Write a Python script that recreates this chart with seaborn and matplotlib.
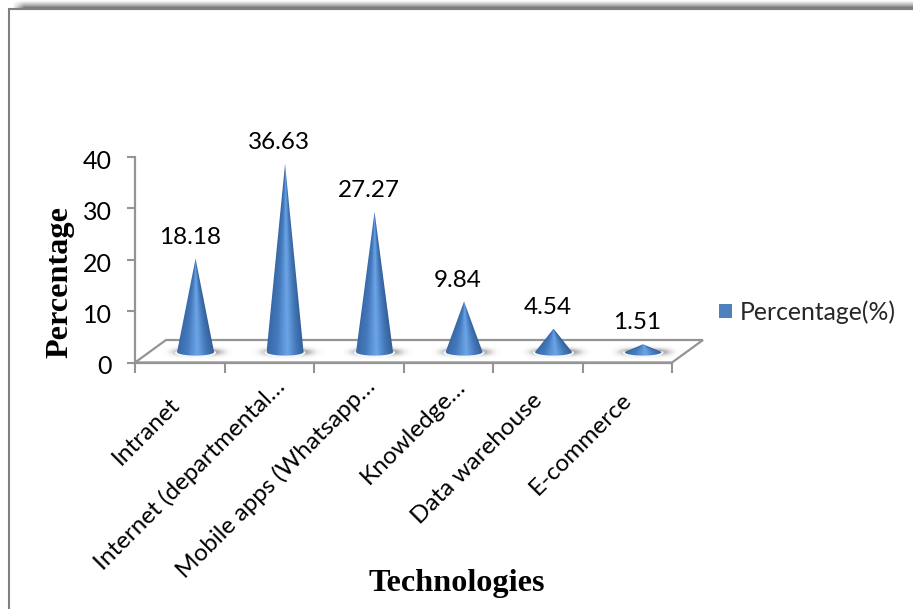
import numpy as np
import pandas as pd
import matplotlib
matplotlib.use("Agg")
import matplotlib.pyplot as plt
from matplotlib.colors import LinearSegmentedColormap
from matplotlib.patches import Polygon, Patch
from matplotlib.transforms import ScaledTranslation
import seaborn as sns

technologies = ["Intranet", "Internet (departmental…", "Mobile apps (Whatsapp…",
                "Knowledge…", "Data warehouse", "E-commerce"]
percentages = [18.18, 36.63, 27.27, 9.84, 4.54, 1.51]
value_labels = ["18.18", "36.63", "27.27", "9.84", "4.54", "1.51"]
y_ticks = [0, 10, 20, 30, 40]

# Pixel shift of each category label's baseline end from its slot centre
label_shift_x = [1, 17.5, 18, 18.5, 6, 6]
label_shift_y = [35, 17, 17, 17, 31, 30]

W, H = 913, 609
GREY = "#949494"
BLUE = "#4f81bd"
TEXT_FONT = "Lato"
SERIF = "Liberation Serif"

sns.set_theme(style="white")
fig = plt.figure(figsize=(W / 100, H / 100), dpi=100, facecolor="white")

# Outer chart frame with its soft drop shadow, in pixel coordinates
bg = fig.add_axes([0, 0, 1, 1], zorder=0)
bg.set_xlim(0, W)
bg.set_ylim(H, 0)
bg.axis("off")
shade = np.zeros((12, W, 4))
fade_y = np.linspace(0, 1, 12) ** 1.2
fade_x = np.clip((np.arange(W) - 12) / 12, 0, 1)
shade[..., 3] = 0.62 * fade_y[:, None] * fade_x[None, :]
bg.imshow(shade, extent=(0, W, 9, 0), aspect="auto", zorder=1, interpolation="bilinear")
bg.plot([9, 9, W], [H, 9, 9], color="#7f7f7f", lw=1.5, zorder=2, solid_joinstyle="miter")
bg.set_xlim(0, W)
bg.set_ylim(H, 0)

# Plot area
left, right, top, bottom = 135, 672, 157, 362.5
ax = fig.add_axes([left / W, 1 - bottom / H, (right - left) / W, (bottom - top) / H], zorder=1)
ax.patch.set_alpha(0)
frame = pd.DataFrame({"Technology": technologies, "Percentage": percentages})
sns.barplot(data=frame, x="Technology", y="Percentage", color=BLUE, width=0.4, ax=ax)
ax.set_xlim(-0.5, 5.5)
ax.set_ylim(0, 40)

px_x = (len(technologies)) / (right - left)   # category units per pixel
px_y = 40 / (bottom - top)                    # percent units per pixel

# Floor of the 3-D scene
floor_dx, floor_dy = 31 * px_x, 22.5 * px_y
floor = Polygon([(-0.5, 0), (5.5, 0), (5.5 + floor_dx, floor_dy), (-0.5 + floor_dx, floor_dy)],
                closed=True, facecolor="white", edgecolor=GREY, lw=1.6, clip_on=False, zorder=1)
ax.add_patch(floor)

cone_cmap = LinearSegmentedColormap.from_list(
    "cone", [(0, "#386aa8"), (0.25, "#4479bc"), (0.55, "#6ca6e8"), (0.8, "#4478b8"), (1, "#335f99")])

base_y = 10.5 * px_y
base_dx = 15.8 * px_x
half_w = 18.5 * px_x
semi_h = 3.6 * px_y

# Each hidden bar supplies the position and height of one cone
for bar, text in zip(ax.patches, value_labels):
    bar.set_visible(False)
    cx = bar.get_x() + bar.get_width() / 2 + base_dx
    apex = base_y + bar.get_height()

    # Blurred contact shadow beneath the cone, fading out before its edge
    gx, gy = np.meshgrid(np.linspace(-1, 1, 140), np.linspace(-1, 1, 40))
    soft = np.exp(-(gx / 0.62) ** 4 - (gy / 0.42) ** 2)
    rgba = np.zeros((40, 140, 4))
    rgba[..., :3] = 0.42
    rgba[..., 3] = 0.85 * soft
    ax.imshow(rgba, extent=(cx - 37 * px_x, cx + 41 * px_x,
                            base_y - 8 * px_y, base_y + 8 * px_y),
              aspect="auto", zorder=2, clip_on=False, origin="lower")

    # White rim hugging the base
    th = np.linspace(np.pi, 2 * np.pi, 40)
    rim_x = cx + (half_w + 1.4 * px_x) * np.cos(th)
    rim_y = base_y + (semi_h + 1.6 * px_y) * np.sin(th)
    ax.fill(rim_x, rim_y, color="#f6f6f6", zorder=3, clip_on=False)

    # Cone body: shading follows the narrowing width towards the apex
    outline_x = np.r_[cx + half_w * np.cos(th), cx]
    outline_y = np.r_[base_y + semi_h * np.sin(th), apex]
    xs = np.linspace(cx - half_w, cx + half_w, 240)
    ys = np.linspace(base_y - semi_h, apex, 400)
    mx, my = np.meshgrid(xs, ys)
    frac = np.clip((apex - my) / (apex - base_y), 0.005, 1.0)
    u = np.clip((mx - cx) / (half_w * frac), -1, 1) * 0.5 + 0.5
    img = ax.imshow(u, extent=(cx - half_w, cx + half_w, base_y - semi_h, apex),
                    origin="lower", aspect="auto", cmap=cone_cmap, vmin=0, vmax=1, zorder=4)
    img.set_clip_path(Polygon(np.c_[outline_x, outline_y], closed=True, transform=ax.transData))

    # Value label above the apex
    ax.annotate(text, xy=(cx, apex), xytext=(-6 * 0.72, 22 * 0.72 - 0.5),
                textcoords="offset points", ha="center", va="center",
                fontsize=17.5, family=TEXT_FONT, color="black", zorder=6)

ax.set_xlim(-0.5, 5.5)
ax.set_ylim(0, 40)

# Axes styling
sns.despine(ax=ax, top=True, right=True)
for side in ("left", "bottom"):
    ax.spines[side].set_color(GREY)
    ax.spines[side].set_linewidth(1.6)
    ax.spines[side].set_zorder(1.5)

ax.set_yticks(y_ticks)
ax.tick_params(axis="y", left=True, length=6, width=1.5, color=GREY, pad=10.5,
               labelsize=18, labelcolor="black")
ax.set_xticks(np.arange(-0.5, 6, 1), minor=True)
ax.tick_params(axis="x", which="minor", bottom=True, length=7, width=1.5, color=GREY)
ax.tick_params(axis="x", which="major", bottom=False, pad=0, labelsize=17.5, labelcolor="black")
ax.set_xticks(range(len(technologies)))
ax.set_xticklabels(technologies, rotation=45, ha="right", va="baseline", rotation_mode="anchor")

# Nudge each rotated label so its baseline ends where the layout needs it
for lab, sx, sy in zip(ax.get_xticklabels(), label_shift_x, label_shift_y):
    lab.set_family(TEXT_FONT)
    lab.set_transform(lab.get_transform() + ScaledTranslation(sx / 100, -sy / 100, fig.dpi_scale_trans))
for lab in ax.get_yticklabels():
    lab.set_family(TEXT_FONT)
    lab.set_transform(lab.get_transform() + ScaledTranslation(0, -2.5 / 100, fig.dpi_scale_trans))
ax.set_xlabel("")
ax.set_ylabel("")

fig.text(457 / W, 1 - 583 / H, "Technologies", family=SERIF, weight="bold",
         fontsize=23.2, ha="center", va="center", color="black")
fig.text(60 / W, 1 - 282 / H, "Percentage", family=SERIF, weight="bold",
         fontsize=23.2, ha="center", va="center", rotation=90, color="black")

fig.legend(handles=[Patch(facecolor=BLUE, edgecolor="none", label="Percentage(%)")],
           loc="center left", bbox_to_anchor=(719 / W, 1 - 312 / H), frameon=False,
           handlelength=0.53, handleheight=0.53, handletextpad=0.3, borderpad=0,
           borderaxespad=0, prop={"family": TEXT_FONT, "size": 17.8})

fig.savefig("out.png", dpi=100, facecolor="white")
